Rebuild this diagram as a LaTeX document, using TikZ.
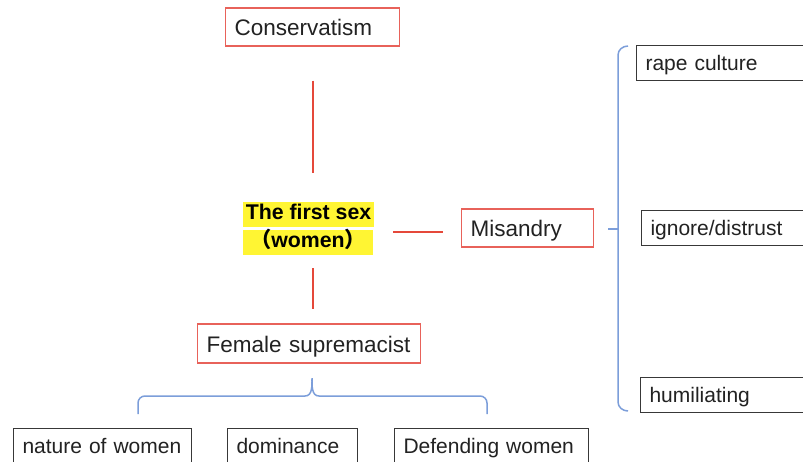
\documentclass[tikz,border=0pt]{standalone}
\usepackage{fontspec}
\setmainfont{Liberation Sans}
\newfontfamily\cjk{Noto Sans CJK SC}
\definecolor{redline}{HTML}{E5483A}
\definecolor{redbox}{HTML}{E8625A}
\definecolor{bluebr}{HTML}{7C9EDA}
\definecolor{hl}{HTML}{FFF533}
\definecolor{ink}{HTML}{222222}
\begin{document}
\begin{tikzpicture}[x=1pt,y=-1pt,
  base/.style={rectangle, text=ink, inner xsep=9pt, inner ysep=0pt, align=left, anchor=west},
  rbox/.style={base, font=\fontsize{22.5}{26}\selectfont, text height=17pt, text depth=0pt,
     draw=redbox, line width=1.4pt},
  kbox/.style={base, font=\fontsize{21}{24}\selectfont, text height=15pt, text depth=0pt,
     draw=ink!90, line width=1pt, minimum height=35pt},
  hlbox/.style={rectangle, fill=hl, inner sep=0pt, text=black, font=\fontsize{21.3}{24}\selectfont\bfseries,
     text height=15pt, text depth=4.5pt},
  rline/.style={draw=redline, line width=2pt},
  brace/.style={draw=bluebr, line width=1.5pt}
]
\useasboundingbox (0,0) rectangle (803,461);
\fill[white] (0,0) rectangle (803,461);

% red boxes
\node[rbox, text width=156pt, minimum height=38pt] (cons) at (225,27) {Conservatism};
\node[rbox, text width=114pt, minimum height=38pt] (mis) at (461,228) {Misandry};
\node[rbox, text width=205pt, minimum height=39pt] (fem) at (197,343.5) {Female~supremacist};

% highlighted title
\node[hlbox, minimum width=131pt, minimum height=25pt] (t1) at (308.5,214.5) {The first sex};
\node[hlbox, minimum width=130pt, minimum height=25pt] (t2) at (308,242.5) {{\cjk\bfseries （}women{\cjk\bfseries ）}};

% black boxes
\node[kbox, text width=182pt] (rape) at (636,62.5) {rape culture};
\node[kbox, text width=182pt] (ign) at (641,227.5) {ignore/distrust};
\node[kbox, text width=182pt] (hum) at (640,394.5) {humiliating};
\node[kbox, text width=160pt] (nat) at (13,445.5) {nature of women};
\node[kbox, text width=112pt] (dom) at (227,445.5) {dominance};
\node[kbox, text width=176pt] (def) at (394,445.5) {Defending women};

% red connectors
\draw[rline, shorten <=34pt, shorten >=29pt] (cons.south -| 313,0) -- (t1.north -| 313,0);
\draw[rline, shorten <=13pt, shorten >=14pt] (t2.south -| 313,0) -- (fem.north -| 313,0);
\draw[rline, shorten <=19pt, shorten >=18pt] (t1.east |- 0,232) -- (mis.west |- 0,232);

% right brace
\path[brace] (628,46) to[out=180,in=90] (618,55) -- (618,402) to[out=-90,in=180] (628,411);
\draw[brace] (608,229) -- (618,229);

% bottom brace
\path[brace] (138,414) -- (138,403) to[out=90,in=180] (145,396) -- (305,396)
  to[out=0,in=-90] (312,378) to[out=-90,in=180] (319,396) -- (480,396)
  to[out=0,in=90] (487,403) -- (487,414);
\end{tikzpicture}
\end{document}
